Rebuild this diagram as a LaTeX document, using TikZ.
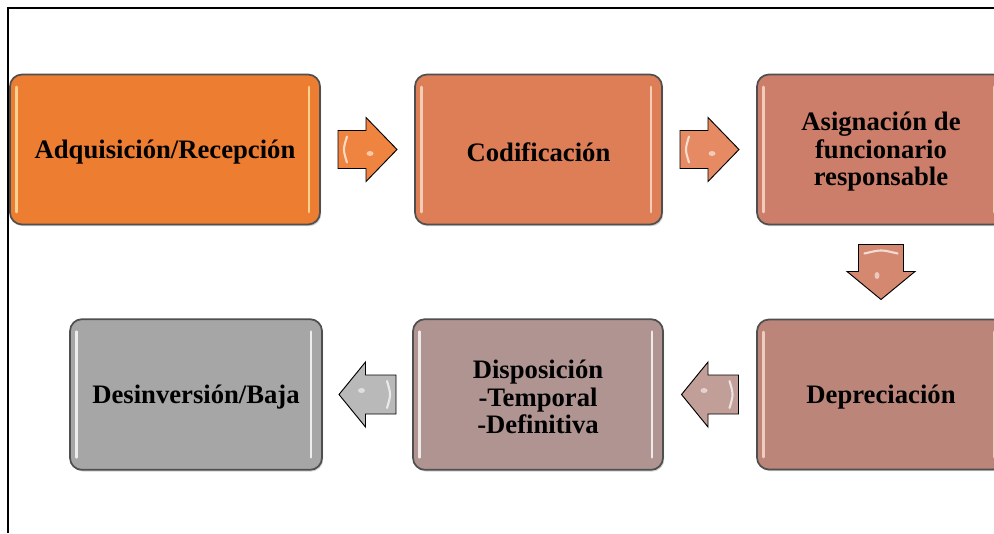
\documentclass[tikz,border=0pt]{standalone}
\usepackage{fontspec}
\setmainfont{Liberation Serif}
\usetikzlibrary{shadows,calc}

\definecolor{edgegray}{HTML}{4F4F4F}
\definecolor{fillA}{HTML}{ED7D31}
\definecolor{fillB}{HTML}{DE7E56}
\definecolor{fillC}{HTML}{CD7E6A}
\definecolor{fillD}{HTML}{BC857A}
\definecolor{fillE}{HTML}{B09492}
\definecolor{fillF}{HTML}{A6A6A6}
\definecolor{arrA}{HTML}{EF8340}
\definecolor{arrB}{HTML}{E58A62}
\definecolor{arrC}{HTML}{D4886F}
\definecolor{arrD}{HTML}{C29E98}
\definecolor{arrE}{HTML}{B9B9B9}
\definecolor{glowA}{HTML}{FFE6A8}
\definecolor{glowB}{HTML}{FBE0CF}

% light vertical reflections near the left and right edge of a stage box
\newcommand\glints[2]{%
  \draw[glint,draw=#2] ([xshift=5.5pt,yshift=-10pt]#1.north west) -- ([xshift=5.5pt,yshift=10pt]#1.south west);
  \draw[glint,draw=#2] ([xshift=-9pt,yshift=-10pt]#1.north east) -- ([xshift=-9pt,yshift=10pt]#1.south east);}

% caption of a stage box, set a little below the box centre
\newcommand\stagecaption[2]{\node[stagetext] (#1-text) at ([yshift=-1.8pt]#1.center) {#2};}

% block arrow: name, centre, rotation, colour, tail x, head base x, tip x, shaft half width, head half width (px)
\newcommand\blockarrow[9]{%
  \coordinate (#1) at (#2);
  \begin{scope}[shift={(#1)}, rotate=#3]
    \draw[flow, fill=#4] (#5,-#8) -- (#6,-#8) -- (#6,-#9) -- (#7,0) -- (#6,#9) -- (#6,#8) -- (#5,#8) -- cycle;
    \draw[white, opacity=0.7, line width=1.6pt, line cap=round]
      ($(#5,-#8)+(9,6)$) .. controls ($(#5,0)+(5,0)$) .. ($(#5,#8)+(9,-6)$);
    \fill[white, opacity=0.55] ($(#6,0)+(4,4)$) ellipse [x radius=3.5, y radius=2.5];
  \end{scope}}

\begin{document}
\begin{tikzpicture}[x=0.75pt,y=-0.75pt,
  stage/.style={rounded corners=9pt, draw=edgegray, line width=1.3pt, inner sep=0pt,
    drop shadow={shadow xshift=0.9pt, shadow yshift=-1.3pt, opacity=0.35}},
  stagetext/.style={align=center, text=black, inner sep=0pt,
    font=\fontsize{20}{20.6}\selectfont\bfseries},
  flow/.style={draw=black, line width=0.7pt, line join=miter},
  glint/.style={line width=2pt, opacity=0.8, line cap=round}]

\useasboundingbox (0,0) rectangle (994,533);
\clip (0,0) rectangle (994,533);
\fill[white] (0,0) rectangle (994,533);

% frame
\draw[line width=2.2pt] (8,533) -- (8,8) -- (994,8);

% top row
\node[stage, fill=fillA, minimum width=232.5pt, minimum height=112.5pt] (adq) at (165,149.5) {};
\node[stage, fill=fillB, minimum width=185.25pt, minimum height=112.5pt] (cod) at (538.5,149.5) {};
\node[stage, fill=fillC, minimum width=186pt, minimum height=112.5pt] (asig) at (881,149.5) {};

% bottom row
\node[stage, fill=fillD, minimum width=186pt, minimum height=112.5pt] (dep) at (881,394.5) {};
\node[stage, fill=fillE, minimum width=187.5pt, minimum height=113pt] (disp) at (538,394.5) {};
\node[stage, fill=fillF, minimum width=189pt, minimum height=113pt] (baja) at (196,394.5) {};

\glints{adq}{glowA}
\glints{cod}{glowB}
\glints{asig}{glowB}
\glints{dep}{glowB}
\glints{disp}{white}
\glints{baja}{white}

\stagecaption{adq}{Adquisición/Recepción}
\stagecaption{cod}{Codificación}
\stagecaption{asig}{Asignación de\\funcionario\\responsable}
\stagecaption{dep}{Depreciación}
\stagecaption{disp}{Disposición\\-Temporal\\-Definitiva}
\stagecaption{baja}{Desinversión/Baja}

% block arrows between the stages
\blockarrow{f1}{$(adq.east)!0.5!(cod.west)$}{0}{arrA}{-29.5}{-1.5}{29.5}{19}{32}
\blockarrow{f2}{$(cod.east)!0.5!(asig.west)$}{0}{arrB}{-29.5}{-1.5}{29.5}{19}{32}
\blockarrow{f3}{$(asig.south)!0.5!(dep.north)$}{-90}{arrC}{-27.5}{-0.5}{27.5}{22.5}{34}
\blockarrow{f4}{$(dep.west)!0.5!(disp.east)$}{180}{arrD}{-28.5}{2}{28.5}{19.5}{32.5}
\blockarrow{f5}{$(disp.west)!0.5!(baja.east)$}{180}{arrE}{-28.5}{2}{28.5}{19.5}{32.5}
\end{tikzpicture}
\end{document}
